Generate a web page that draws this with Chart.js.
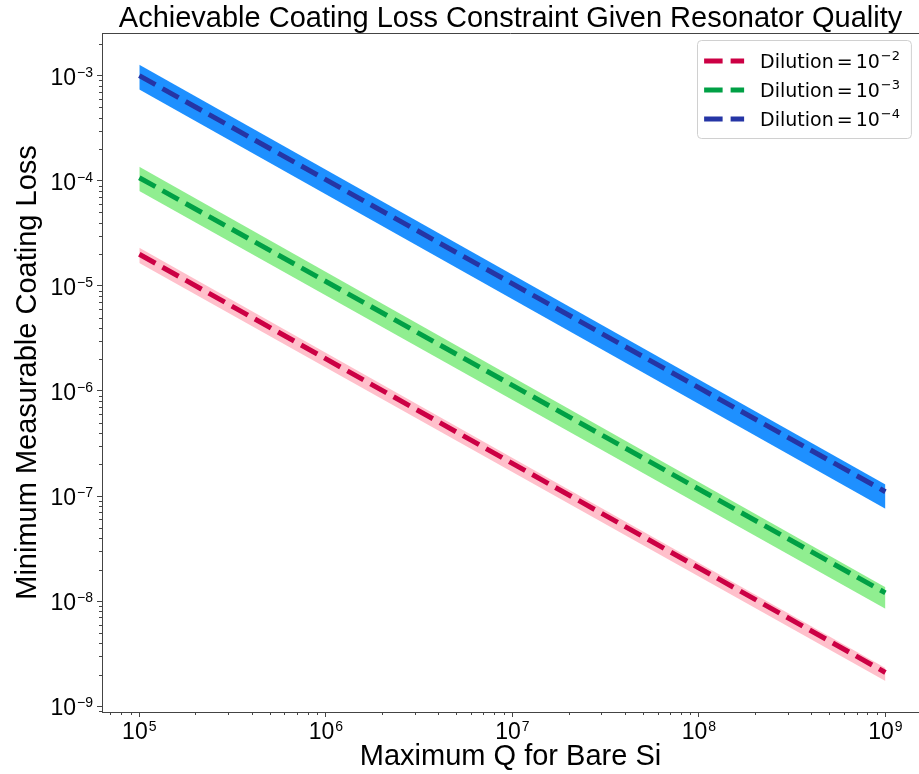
<!DOCTYPE html>
<html lang="en">
<head>
<meta charset="UTF-8">
<title>Achievable Coating Loss Constraint Given Resonator Quality</title>
<script src="https://cdn.jsdelivr.net/npm/chart.js"></script>
<style>
    html, body { margin: 0; padding: 0; background: #fff; }
    .chart-container { position: relative; width: 919px; height: 774px; }
</style>
</head>
<body>

<div class="chart-container">
    <canvas id="lossChart"></canvas>
</div>

<script>
    // Q values at the two ends of every line
    const qValues = [1e5, 1e9];

    const dilutionLabels = ['Dilution = 10⁻²', 'Dilution = 10⁻³', 'Dilution = 10⁻⁴'];
    const dilutionExponents = ['−2', '−3', '−4'];

    // dilution 1e-2
    const lossD2 = [2.0e-5, 2.1e-9];
    const lossD2Upper = [2.3e-5, 2.32e-9];
    const lossD2Lower = [1.65e-5, 1.74e-9];

    // dilution 1e-3
    const lossD3 = [1.07e-4, 1.2e-8];
    const lossD3Upper = [1.36e-4, 1.36e-8];
    const lossD3Lower = [8.0e-5, 8.5e-9];

    // dilution 1e-4
    const lossD4 = [1.0e-3, 1.1e-7];
    const lossD4Upper = [1.27e-3, 1.29e-7];
    const lossD4Lower = [7.4e-4, 7.6e-8];

    const xTickValues = [1e5, 1e6, 1e7, 1e8, 1e9];
    const xTickExponents = ['5', '6', '7', '8', '9'];
    const yTickValues = [1e-9, 1e-8, 1e-7, 1e-6, 1e-5, 1e-4, 1e-3];
    const yTickExponents = ['−9', '−8', '−7', '−6', '−5', '−4', '−3'];

    const lineColors = ['#cc0044', '#00a045', '#2535a5'];
    const bandColors = ['#ffc0cb', '#90ee90', '#1e90ff'];

    const titleText = 'Achievable Coating Loss Constraint Given Resonator Quality';
    const sansFamily = '"Liberation Sans", Arial, sans-serif';

    const toPoints = ys => qValues.map((q, i) => ({ x: q, y: ys[i] }));

    const groups = [
        [lossD2, lossD2Upper, lossD2Lower],
        [lossD3, lossD3Upper, lossD3Lower],
        [lossD4, lossD4Upper, lossD4Lower]
    ];

    const datasets = [];
    groups.forEach(([line, upper, lower], i) => {
        datasets.push({
            label: 'band',
            data: toPoints(upper),
            borderColor: 'rgba(0,0,0,0)',
            borderWidth: 0,
            backgroundColor: bandColors[i],
            pointRadius: 0,
            fill: '+1',
            order: 2
        });
        datasets.push({
            label: 'band',
            data: toPoints(lower),
            borderColor: 'rgba(0,0,0,0)',
            borderWidth: 0,
            pointRadius: 0,
            fill: false,
            order: 2
        });
        datasets.push({
            label: dilutionLabels[i],
            exponent: dilutionExponents[i],
            data: toPoints(line),
            borderColor: lineColors[i],
            borderWidth: 5,
            borderDash: [18.5, 8],
            borderCapStyle: 'butt',
            pointRadius: 0,
            fill: false,
            order: 1
        });
    });

    // "10" with a raised exponent; align = 'center' or 'right'
    function drawPower(ctx, exp, x, baseline, align) {
        ctx.font = '23px ' + sansFamily;
        const baseW = ctx.measureText('10').width;
        ctx.font = '14px ' + sansFamily;
        const expW = ctx.measureText(exp).width;
        const total = baseW + expW + 1;
        const left = align === 'right' ? x - total : x - total / 2;
        ctx.textAlign = 'left';
        ctx.textBaseline = 'alphabetic';
        ctx.font = '23px ' + sansFamily;
        ctx.fillText('10', left, baseline);
        ctx.font = '14px ' + sansFamily;
        ctx.fillText(exp, left + baseW + 1, baseline - 8);
    }

    // title, tick labels, minor ticks, top spine and the in-axes legend
    const extras = {
        id: 'extras',
        afterDraw(chart) {
            const { ctx, chartArea: area, scales } = chart;
            ctx.save();
            ctx.fillStyle = '#000';

            // title centred over the axes
            ctx.font = '29px ' + sansFamily;
            ctx.textAlign = 'center';
            ctx.textBaseline = 'alphabetic';
            ctx.fillText(titleText, (area.left + area.right) / 2, 27);

            // tick labels
            xTickValues.forEach((v, i) => {
                drawPower(ctx, xTickExponents[i], scales.x.getPixelForValue(v), area.bottom + 27, 'center');
            });
            yTickValues.forEach((v, i) => {
                drawPower(ctx, yTickExponents[i], area.left - 9, scales.y.getPixelForValue(v) + 9, 'right');
            });

            // minor ticks
            ctx.strokeStyle = '#444';
            ctx.lineWidth = 1;
            ctx.beginPath();
            for (let d = 4; d <= 9; d++) {
                for (let k = 2; k <= 9; k++) {
                    const v = k * Math.pow(10, d);
                    if (v < scales.x.min || v > scales.x.max) continue;
                    const px = Math.round(scales.x.getPixelForValue(v)) + 0.5;
                    ctx.moveTo(px, area.bottom);
                    ctx.lineTo(px, area.bottom + 3);
                }
            }
            for (let d = -10; d <= -3; d++) {
                for (let k = 2; k <= 9; k++) {
                    const v = k * Math.pow(10, d);
                    if (v < scales.y.min || v > scales.y.max) continue;
                    const py = Math.round(scales.y.getPixelForValue(v)) + 0.5;
                    ctx.moveTo(area.left, py);
                    ctx.lineTo(area.left - 3, py);
                }
            }
            ctx.stroke();

            // top spine
            ctx.beginPath();
            ctx.moveTo(area.left, Math.round(area.top) + 0.5);
            ctx.lineTo(area.right, Math.round(area.top) + 0.5);
            ctx.stroke();

            // legend
            const lines = chart.data.datasets.filter(ds => ds.label !== 'band');
            const legFont = '19px "DejaVu Sans"';
            const expFont = '13px "DejaVu Sans"';
            ctx.font = legFont;
            const wWord = ctx.measureText('Dilution').width;
            const wEq = ctx.measureText('=').width;
            const w10 = ctx.measureText('10').width;
            ctx.font = expFont;
            const wExp = Math.max(...lines.map(ds => ctx.measureText(ds.exponent).width));
            const textW = wWord + 3 + wEq + 3 + w10 + 1 + wExp;

            const boxRight = area.right - 8;
            const boxW = 7 + 40 + 16 + textW + 11;
            const boxLeft = boxRight - boxW;
            const boxTop = area.top + 7;
            const rowH = 29;
            const boxH = rowH * lines.length + 11;

            ctx.beginPath();
            ctx.roundRect(Math.round(boxLeft) + 0.5, boxTop + 0.5, boxW, boxH, 4);
            ctx.fillStyle = 'rgba(255,255,255,0.8)';
            ctx.fill();
            ctx.strokeStyle = '#d0d0d0';
            ctx.stroke();

            lines.forEach((ds, i) => {
                const y = boxTop + 21 + i * rowH;
                ctx.beginPath();
                ctx.setLineDash(ds.borderDash);
                ctx.lineWidth = ds.borderWidth;
                ctx.strokeStyle = ds.borderColor;
                ctx.moveTo(boxLeft + 7, y);
                ctx.lineTo(boxLeft + 47, y);
                ctx.stroke();
                ctx.setLineDash([]);

                ctx.fillStyle = '#000';
                ctx.textBaseline = 'alphabetic';
                ctx.textAlign = 'left';
                const base = y + 7;
                let x = boxLeft + 63;
                ctx.font = legFont;
                ctx.fillText('Dilution', x, base);
                x += wWord + 3;
                ctx.fillText('=', x, base);
                x += wEq + 3;
                ctx.fillText('10', x, base);
                x += w10 + 1;
                ctx.font = expFont;
                ctx.fillText(ds.exponent, x, base - 8);
            });
            ctx.restore();
        }
    };

    const labelFont = { family: sansFamily, size: 29 };

    new Chart(document.getElementById('lossChart'), {
        type: 'line',
        data: { datasets: datasets },
        options: {
            responsive: true,
            maintainAspectRatio: false,
            animation: false,
            devicePixelRatio: 1,
            layout: { padding: { top: 33, left: 0, right: 0, bottom: 0 } },
            plugins: {
                legend: { display: false },
                tooltip: { enabled: false },
                title: { display: false }
            },
            scales: {
                x: {
                    type: 'logarithmic',
                    position: 'bottom',
                    min: Math.pow(10, 4.8),
                    max: Math.pow(10, 9.18),
                    afterBuildTicks: scale => { scale.ticks = xTickValues.map(v => ({ value: v })); },
                    afterFit: scale => { scale.height = 62; },
                    ticks: { display: false, autoSkip: false },
                    grid: { drawOnChartArea: false, tickLength: 5, tickColor: '#444', tickWidth: 1 },
                    border: { color: '#444', width: 1 },
                    title: {
                        display: true,
                        text: 'Maximum Q for Bare Si',
                        color: '#000',
                        font: labelFont,
                        padding: { top: 0, bottom: 0 }
                    }
                },
                y: {
                    type: 'logarithmic',
                    position: 'left',
                    min: Math.pow(10, -9.054),
                    max: Math.pow(10, -2.594),
                    afterBuildTicks: scale => { scale.ticks = yTickValues.map(v => ({ value: v })); },
                    afterFit: scale => { scale.width = 102; },
                    ticks: { display: false, autoSkip: false },
                    grid: { drawOnChartArea: false, tickLength: 5, tickColor: '#444', tickWidth: 1 },
                    border: { color: '#444', width: 1 },
                    title: {
                        display: true,
                        text: 'Minimum Measurable Coating Loss',
                        color: '#000',
                        font: labelFont,
                        padding: { top: 11, bottom: 0 }
                    }
                }
            }
        },
        plugins: [extras]
    });
</script>

</body>
</html>
